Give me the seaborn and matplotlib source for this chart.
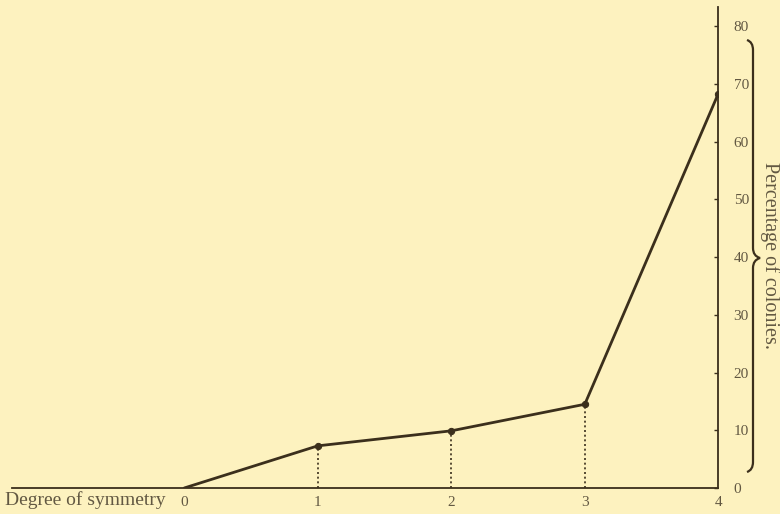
import matplotlib
matplotlib.use("Agg")
import matplotlib.pyplot as plt
from matplotlib.path import Path
from matplotlib.patches import PathPatch
import seaborn as sns
import pandas as pd

# Degree of symmetry vs. percentage of colonies
degree = [0, 1, 2, 3, 4]
percentage = [0.0, 7.3, 9.9, 14.5, 68.3]
y_ticks = [0, 10, 20, 30, 40, 50, 60, 70, 80]

paper = "#fdf2bf"
ink = "#3b2f1c"
text_ink = "#625842"

sns.set_theme(style="white")
plt.rcParams["font.family"] = ["Liberation Serif", "DejaVu Serif"]

df = pd.DataFrame({"degree": degree, "percentage": percentage})

fig = plt.figure(figsize=(7.8, 5.14), dpi=100, facecolor=paper)
ax = fig.add_axes([12 / 780, 1 - 488 / 514, (718.3 - 12) / 780, (488 - 7) / 514])
ax.set_facecolor(paper)

sns.lineplot(data=df, x="degree", y="percentage", ax=ax, color=ink, linewidth=2.0,
             marker="o", markersize=4.5, markevery=[1, 2, 3, 4],
             markeredgecolor=ink, markerfacecolor=ink)

# dotted drop lines from the intermediate points
ax.vlines(df["degree"][1:4], 0, df["percentage"][1:4], colors=ink,
          linestyles=(0, (1.2, 1.6)), linewidth=1.2)

ax.set_xlim(-1.29, 4)
ax.set_ylim(0, 83.3)

for side in ("left", "top"):
    ax.spines[side].set_visible(False)
for side in ("bottom", "right"):
    ax.spines[side].set_color(ink)
    ax.spines[side].set_linewidth(1.3)

ax.yaxis.tick_right()
ax.set_yticks(y_ticks)
ax.set_yticklabels([str(v) for v in y_ticks])
ax.set_xticks(degree)
ax.set_xticklabels([str(v) for v in degree])
ax.tick_params(axis="y", direction="in", length=3, width=1, colors=ink,
               labelcolor=text_ink, labelsize=11, pad=11)
ax.tick_params(axis="x", direction="in", length=3, width=1, colors=ink,
               labelcolor=text_ink, labelsize=11, pad=6)
ax.set_xlabel("")
ax.set_ylabel("")
ax.grid(False)

fig.text(5 / 780, 1 - 500 / 514, "Degree of symmetry", ha="left", va="center",
         fontsize=14, color=text_ink)

fig.text(770 / 780, 1 - 255 / 514, "Percentage of colonies.", ha="center",
         va="center", rotation=-90, fontsize=14.5, color=text_ink)

# curly brace spanning the value range
def px(x, y):
    return (x / 780, 1 - y / 514)

xb, xt, xn = 753, 747, 760
top, mid, bot = 40, 258, 472
verts = [px(xt, top), px(xb, top + 2), px(xb, top + 10),
         px(xb, mid - 10), px(xb, mid - 2), px(xn, mid),
         px(xb, mid + 2), px(xb, mid + 10),
         px(xb, bot - 10), px(xb, bot - 2), px(xt, bot)]
codes = [Path.MOVETO, Path.CURVE3, Path.CURVE3,
         Path.LINETO, Path.CURVE3, Path.CURVE3,
         Path.CURVE3, Path.CURVE3,
         Path.LINETO, Path.CURVE3, Path.CURVE3]
brace = PathPatch(Path(verts, codes), transform=fig.transFigure, fill=False,
                  edgecolor=ink, linewidth=1.6)
fig.patches.append(brace)

fig.savefig("out.png", dpi=100, facecolor=paper)
